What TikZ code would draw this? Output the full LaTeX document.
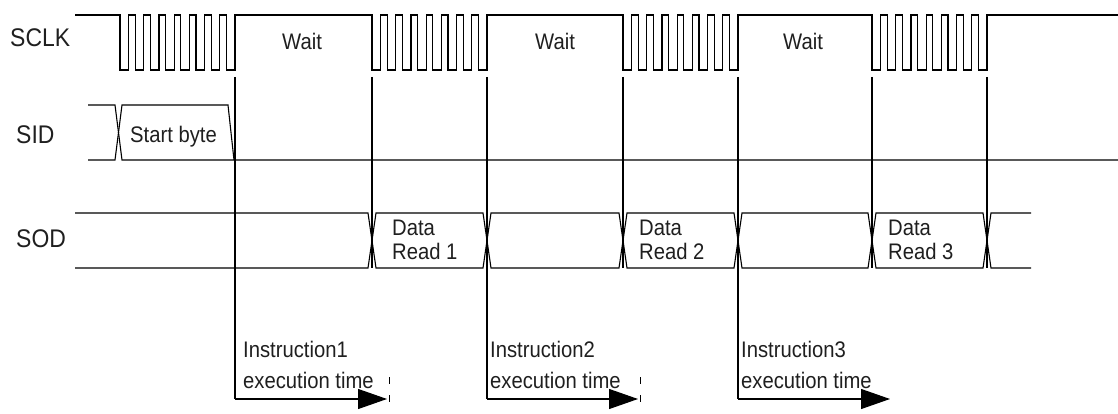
\documentclass[tikz,border=0pt]{standalone}
\usepackage{fontspec}
\setmainfont{Liberation Sans}[FakeStretch=0.9]
\usetikzlibrary{arrows.meta}
\tikzset{
  sig/.style={line width=1.1pt, black, line join=miter},
  vline/.style={line width=1.1pt, black},
  txt/.style={inner sep=0pt, anchor=base west, text=black!88, font=\fontsize{22.5}{25}\selectfont},
  lbl/.style={inner sep=0pt, anchor=base west, text=black!88, font=\fontsize{25.5}{28}\selectfont},
  exarrow/.style={line width=1.1pt, -{Triangle[length=29pt,width=20pt]}},
  tickmark/.style={line width=0.8pt, dash pattern=on 7pt off 11pt}
}
\begin{document}
\begin{tikzpicture}[x=1pt,y=-1pt]
\useasboundingbox (0,0) rectangle (1118,414);
% ---------- SCLK ----------
\draw[sig] (75,15) -- (120,15)
  \foreach \i in {1,...,8}{ -- ++(0,55) -- ++(8.6,0) -- ++(0,-55) -- ++(6.6,0)}
  -- (372,15)
  \foreach \i in {1,...,8}{ -- ++(0,55) -- ++(8.6,0) -- ++(0,-55) -- ++(6.6,0)}
  -- (623,15)
  \foreach \i in {1,...,8}{ -- ++(0,55) -- ++(8.6,0) -- ++(0,-55) -- ++(6.6,0)}
  -- (872,15)
  \foreach \i in {1,...,8}{ -- ++(0,55) -- ++(8.6,0) -- ++(0,-55) -- ++(6.6,0)}
  -- (1118,15);
% ---------- SID ----------
\draw[sig] (88,105) -- (115,105) -- (122,160) -- (1118,160);
\draw[sig] (88,160) -- (115,160) -- (122,105) -- (228,105) -- (234,160);
% ---------- SOD ----------
\draw[sig] (75,213) -- (368,213) -- (376,268) -- (483,268) -- (491,213) -- (619,213) -- (627,268)
  -- (734,268) -- (742,213) -- (868,213) -- (876,268) -- (983,268) -- (991,213) -- (1031,213);
\draw[sig] (75,268) -- (368,268) -- (376,213) -- (483,213) -- (491,268) -- (619,268) -- (627,213)
  -- (734,213) -- (742,268) -- (868,268) -- (876,213) -- (983,213) -- (991,268) -- (1031,268);
% ---------- markers ----------
\foreach \n/\xx in {a/235,b/372,c/487,d/623,e/738,f/872,g/987}{
  \coordinate (t\n) at (\xx,77);
  \coordinate (s\n) at (\xx,268);
}
\coordinate (ca) at (235,399);
\coordinate (cc) at (487,399);
\coordinate (ce) at (738,399);
\coordinate (ea) at (387,399);
\coordinate (ec) at (638,399);
\coordinate (ee) at (890,399);
\foreach \n in {b,d,f,g}{ \draw[vline] (t\n) -- (s\n); }
\foreach \n in {a,c,e}{
  \draw[vline] (t\n) -- (c\n);
  \draw[exarrow] (c\n) -- (e\n);
}
\coordinate (ka) at (389,377); \coordinate (kb) at (389,404);
\coordinate (kc) at (640,377); \coordinate (kd) at (640,404);
\draw[tickmark] (ka) -- (kb);
\draw[tickmark] (kc) -- (kd);
% ---------- texts ----------
\node[lbl] (lsclk) at (10,46.5) {SCLK};
\node[lbl] (lsid) at (16,144) {SID};
\node[lbl] (lsod) at (16,247) {SOD};
\node[txt] (w1) at (282,50) {Wait};
\node[txt] (w2) at (535,50) {Wait};
\node[txt] (w3) at (783,50) {Wait};
\node[txt] (sb) at (130,142.5) {Start byte};
\node[txt] (d1) at (392,235.5) {Data};
\node[txt] (r1) at (392,259) {Read 1};
\node[txt] (d2) at (639,235.5) {Data};
\node[txt] (r2) at (639,259) {Read 2};
\node[txt] (d3) at (888,235.5) {Data};
\node[txt] (r3) at (888,259) {Read 3};
\node[txt] (i1) at (243,357) {Instruction1};
\node[txt] (x1) at (243,388) {execution time};
\node[txt] (i2) at (490,357) {Instruction2};
\node[txt] (x2) at (490,388) {execution time};
\node[txt] (i3) at (741,357) {Instruction3};
\node[txt] (x3) at (741,388) {execution time};
\end{tikzpicture}
\end{document}
